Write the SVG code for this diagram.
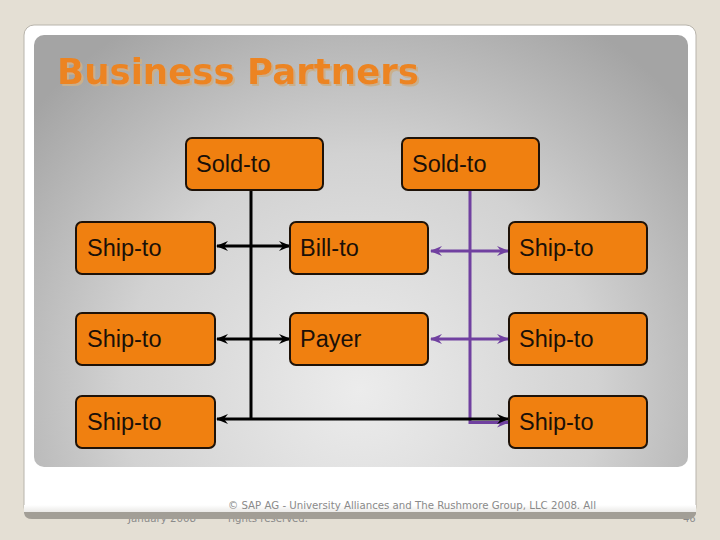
<svg xmlns="http://www.w3.org/2000/svg" width="720" height="540" viewBox="0 0 720 540">
<defs>
<radialGradient id="panel" gradientUnits="userSpaceOnUse" cx="360" cy="390" r="430">
<stop offset="0" stop-color="#ececec"/>
<stop offset="0.55" stop-color="#d2d2d2"/>
<stop offset="1" stop-color="#a4a4a4"/>
</radialGradient>
<linearGradient id="shade" x1="0" y1="0" x2="0" y2="1">
<stop offset="0" stop-color="#ffffff"/>
<stop offset="1" stop-color="#d8d6d2"/>
</linearGradient>
<filter id="tsh" x="-5%" y="-20%" width="110%" height="140%">
<feOffset in="SourceAlpha" dx="2" dy="2" result="o"/>
<feFlood flood-color="#c9b08c"/>
<feComposite in2="o" operator="in" result="s"/>
<feMerge><feMergeNode in="s"/><feMergeNode in="SourceGraphic"/></feMerge>
</filter>
<marker id="ab" viewBox="0 0 12 10" refX="11" refY="5" markerWidth="12" markerHeight="10" markerUnits="userSpaceOnUse" orient="auto-start-reverse">
<path d="M0,0 L12,5 L0,10 L4,5 z" fill="#000"/>
</marker>
<marker id="ap" viewBox="0 0 12 10" refX="11" refY="5" markerWidth="12" markerHeight="10" markerUnits="userSpaceOnUse" orient="auto-start-reverse">
<path d="M0,0 L12,5 L0,10 L4,5 z" fill="#7040a0"/>
</marker>
</defs>
<style>
.node rect{fill:#f08010;stroke:#1e1208;stroke-width:2}
.node text{font-family:"Liberation Sans",Arial,sans-serif;font-size:23.5px;fill:#1a1008}
.blk{stroke:#000;stroke-width:3;fill:none}
.pur{stroke:#7040a0;stroke-width:3;fill:none}
.foot{font-family:"DejaVu Sans",Verdana,sans-serif;font-size:10px;fill:#8a8a8a}
</style>
<rect width="720" height="540" fill="#e4dfd4"/>
<rect x="24" y="25" width="672" height="492" rx="10" fill="#ffffff" stroke="#b8b4ac" stroke-width="1"/>
<text class="foot" x="128" y="522" textLength="68" lengthAdjust="spacingAndGlyphs">January 2008</text>
<text class="foot" x="228" y="522" textLength="80" lengthAdjust="spacingAndGlyphs">rights reserved.</text>
<text class="foot" x="683" y="522">46</text>
<path d="M24,505 L696,505 L696,512 Q696,518 690,518 L32,518 Q24,518 24,512 Z" fill="url(#shade)"/>
<path d="M24,512 L696,512 L696,514 Q694,519 688,519 L32,519 Q25,519 24,513 Z" fill="#a29e96"/>
<text class="foot" x="228" y="509" textLength="368" lengthAdjust="spacingAndGlyphs">© SAP AG - University Alliances and The Rushmore Group, LLC 2008. All</text>
<rect x="34" y="35" width="654" height="432" rx="10" fill="url(#panel)"/>
<text x="57" y="84" font-family="'DejaVu Sans',Verdana,sans-serif" font-weight="bold" font-size="35" fill="#ec8420" textLength="362" lengthAdjust="spacingAndGlyphs" filter="url(#tsh)">Business Partners</text>
<g id="connectors">
<line class="blk" x1="251" y1="190" x2="251" y2="419"/>
<path class="pur" d="M470,190 L470,422.5 L498,422.5"/>
<line class="pur" x1="498" y1="422.5" x2="508" y2="422.5" marker-end="url(#ap)"/>
<line class="blk" x1="217" y1="246" x2="290" y2="246" marker-start="url(#ab)" marker-end="url(#ab)"/>
<line class="blk" x1="217" y1="339" x2="290" y2="339" marker-start="url(#ab)" marker-end="url(#ab)"/>
<line class="blk" x1="217" y1="419" x2="508" y2="419" marker-start="url(#ab)" marker-end="url(#ab)"/>
<line class="pur" x1="431" y1="251" x2="508" y2="251" marker-start="url(#ap)" marker-end="url(#ap)"/>
<line class="pur" x1="431" y1="339" x2="508" y2="339" marker-start="url(#ap)" marker-end="url(#ap)"/>
</g>
<g id="soldto1" class="node"><rect x="186" y="138" width="137" height="52" rx="6"/><text x="196" y="172">Sold-to</text></g>
<g id="soldto2" class="node"><rect x="402" y="138" width="137" height="52" rx="6"/><text x="412" y="172">Sold-to</text></g>
<g id="shipto-l1" class="node"><rect x="76" y="222" width="139" height="52" rx="6"/><text x="87" y="256">Ship-to</text></g>
<g id="billto" class="node"><rect x="290" y="222" width="138" height="52" rx="6"/><text x="300" y="256">Bill-to</text></g>
<g id="shipto-r1" class="node"><rect x="509" y="222" width="138" height="52" rx="6"/><text x="519" y="256">Ship-to</text></g>
<g id="shipto-l2" class="node"><rect x="76" y="313" width="139" height="52" rx="6"/><text x="87" y="347">Ship-to</text></g>
<g id="payer" class="node"><rect x="290" y="313" width="138" height="52" rx="6"/><text x="300" y="347">Payer</text></g>
<g id="shipto-r2" class="node"><rect x="509" y="313" width="138" height="52" rx="6"/><text x="519" y="347">Ship-to</text></g>
<g id="shipto-l3" class="node"><rect x="76" y="396" width="139" height="52" rx="6"/><text x="87" y="430">Ship-to</text></g>
<g id="shipto-r3" class="node"><rect x="509" y="396" width="138" height="52" rx="6"/><text x="519" y="430">Ship-to</text></g>
</svg>
